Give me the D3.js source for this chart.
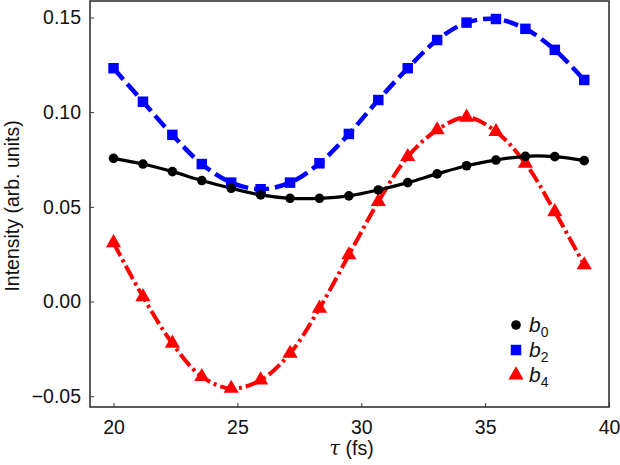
<!DOCTYPE html>
<html><head><meta charset="utf-8">
<script src="https://cdn.jsdelivr.net/npm/d3@7"></script>
<style>
body{margin:0;background:#fff;}
text{font-family:"Liberation Sans",Arial,Helvetica,sans-serif;}
</style></head>
<body><svg id="c" width="620" height="465"></svg>
<script>
const tau = [20,21.1875,22.375,23.5625,24.75,25.9375,27.125,28.3125,29.5,30.6875,31.875,33.0625,34.25,35.4375,36.625,37.8125,39];
const b0 = [0.0756,0.0726,0.0686,0.0639,0.0598,0.0563,0.0545,0.0545,0.0558,0.0589,0.0628,0.0674,0.0717,0.0747,0.0767,0.0765,0.0744];
const b2 = [0.1232,0.1055,0.0880,0.0726,0.0628,0.0593,0.0628,0.0730,0.0885,0.1064,0.1232,0.1381,0.1473,0.1492,0.1440,0.1329,0.1170];
const b4 = [0.0310,0.0025,-0.0221,-0.0397,-0.0459,-0.0415,-0.0274,-0.0036,0.0246,0.0527,0.0765,0.0906,0.0973,0.0897,0.0730,0.0474,0.0193];
const xTicks = [20,25,30,35,40];
const yTicks = [-0.05,0,0.05,0.10,0.15];
const seriesNames = ["0","2","4"];

const svg = d3.select("#c");
const L=90, R=609, T=1, B=407;
const x = d3.scaleLinear().domain([19.05,40]).range([L,R]);
const y = d3.scaleLinear().domain([-0.0557,0.1587]).range([B,T]);

// axes
svg.append("g").attr("transform",`translate(${L},0)`)
  .call(d3.axisLeft(y).tickValues(yTicks).tickFormat(d3.format(".2f")).tickSizeInner(-4).tickSizeOuter(0).tickPadding(9))
  .call(g=>{g.select(".domain").remove();g.selectAll("line").attr("stroke","#333").attr("stroke-width",1);
    g.selectAll("text").attr("font-size","19.5px").attr("fill","#111").text(d=>d<0?"\u2212"+d3.format(".2f")(-d):d3.format(".2f")(d));});
svg.append("g").attr("transform",`translate(0,${B})`)
  .call(d3.axisBottom(x).tickValues(xTicks).tickSizeInner(-4).tickSizeOuter(0).tickPadding(13))
  .call(g=>{g.select(".domain").remove();g.selectAll("line").attr("stroke","#333").attr("stroke-width",1);
    g.selectAll("text").attr("font-size","19.5px").attr("fill","#111");});

svg.append("rect").attr("x",L).attr("y",T).attr("width",R-L).attr("height",B-T)
  .attr("fill","none").attr("stroke","#333").attr("stroke-width",1.6);

// labels
svg.append("text").attr("transform",`translate(19,${(T+B)/2+2}) rotate(-90)`).attr("text-anchor","middle")
  .attr("font-size","19.5px").attr("fill","#111").text("Intensity (arb. units)");
const xl = svg.append("text").attr("x",(L+R)/2+2).attr("y",455).attr("text-anchor","middle").attr("font-size","19.5px").attr("fill","#111");
xl.append("tspan").attr("font-style","italic").attr("font-family","'DejaVu Serif',serif").text("τ");
xl.append("tspan").text(" (fs)");

const line = d3.line().x(d=>x(d[0])).y(d=>y(d[1])).curve(d3.curveCatmullRom.alpha(0.5));
const zip = v => tau.map((t,i)=>[t,v[i]]);

svg.append("path").datum(zip(b2)).attr("d",line).attr("fill","none").attr("stroke","#0000ff").attr("stroke-width",4.5).attr("stroke-dasharray","15,6");
svg.append("path").datum(zip(b4)).attr("d",line).attr("fill","none").attr("stroke","#ff0000").attr("stroke-width",4).attr("stroke-dasharray","15,4,3,4");
svg.append("path").datum(zip(b0)).attr("d",line).attr("fill","none").attr("stroke","#000").attr("stroke-width",3.2);

const sq = d3.symbol().type(d3.symbolSquare).size(110);
const tri = d3.symbol().type(d3.symbolTriangle).size(100);
const cir = d3.symbol().type(d3.symbolCircle).size(72);

svg.append("g").selectAll("path").data(zip(b2)).join("path").attr("d",sq)
  .attr("transform",d=>`translate(${x(d[0])},${y(d[1])})`).attr("fill","#0000ff");
svg.append("g").selectAll("path").data(zip(b4)).join("path").attr("d",tri)
  .attr("transform",d=>`translate(${x(d[0])},${y(d[1])})`).attr("fill","#ff0000");
svg.append("g").selectAll("path").data(zip(b0)).join("path").attr("d",cir)
  .attr("transform",d=>`translate(${x(d[0])},${y(d[1])})`).attr("fill","#000");

// legend
const leg = [[cir,"#000"],[sq,"#0000ff"],[tri,"#ff0000"]];
leg.forEach((l,i)=>{
  const cy = 325 + i*25;
  svg.append("path").attr("d",l[0]).attr("transform",`translate(516,${cy})`).attr("fill",l[1]);
  const t = svg.append("text").attr("x",529).attr("y",cy+7).attr("font-size","21px").attr("fill","#111");
  t.append("tspan").attr("font-style","italic").text("b");
  t.append("tspan").attr("font-size","14px").attr("dy",5).text(seriesNames[i]);
});
</script></body></html>
